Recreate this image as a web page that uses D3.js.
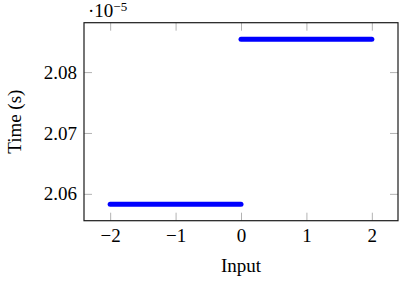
<!DOCTYPE html>
<html>
<head>
<meta charset="utf-8">
<script src="https://cdn.jsdelivr.net/npm/d3@7"></script>
<style>
  body { margin: 0; background: #fff; }
  svg { display: block; font-family: "Liberation Serif", "DejaVu Serif", serif; }
</style>
</head>
<body>
<svg id="chart" width="399" height="282"></svg>
<script>

// === Data === //
// time values are in units of 1e-5 s (the multiplier sits above the axis)

var segInputs = [[-2, 0], [0, 2]];
var segTimes = [2.0583, 2.0854];
var xTicks = [-2, -1, 0, 1, 2];
var yTicks = [2.06, 2.07, 2.08];


// === Layout === //

var width = 399, height = 282;
var margin = {top: 22.7, right: 1, bottom: 61.3, left: 84};

var svg = d3.select('#chart');

// pgfplots style: enlarge limits by 10% of the data range
var xMin = d3.min(segInputs, function(d) { return d[0]; });
var xMax = d3.max(segInputs, function(d) { return d[1]; });
var xPad = (xMax - xMin) * 0.1;
var yMin = d3.min(segTimes), yMax = d3.max(segTimes);
var yPad = (yMax - yMin) * 0.1;

var x = d3.scaleLinear()
	.domain([xMin - xPad, xMax + xPad])
	.range([margin.left, width - margin.right]);

var y = d3.scaleLinear()
	.domain([yMin - yPad, yMax + yPad])
	.range([height - margin.bottom, margin.top]);

var tickLen = 8;
var tickColor = '#b3b3b3';


// === Axes === //

function styleAxis(g) {
	g.attr('font-family', null).attr('font-size', null);
	g.select('.domain').remove();
	g.selectAll('.tick line').attr('stroke', tickColor).attr('stroke-width', 1);
	g.selectAll('.tick text').attr('fill', '#000').attr('font-size', 19);
}

svg.append('g')
	.attr('transform', 'translate(0,' + y.range()[0] + ')')
	.call(d3.axisBottom(x).tickValues(xTicks).tickSize(-tickLen).tickPadding(8).tickFormat(d3.format('d')))
	.call(styleAxis);

svg.append('g')
	.attr('transform', 'translate(0,' + y.range()[1] + ')')
	.call(d3.axisTop(x).tickValues(xTicks).tickSize(-tickLen).tickFormat(''))
	.call(styleAxis);

svg.append('g')
	.attr('transform', 'translate(' + x.range()[0] + ',0)')
	.call(d3.axisLeft(y).tickValues(yTicks).tickSize(-tickLen).tickPadding(7).tickFormat(d3.format('.2f')))
	.call(styleAxis);

svg.append('g')
	.attr('transform', 'translate(' + x.range()[1] + ',0)')
	.call(d3.axisRight(y).tickValues(yTicks).tickSize(-tickLen).tickFormat(''))
	.call(styleAxis);

// axis box
svg.append('rect')
	.attr('x', x.range()[0])
	.attr('y', y.range()[1])
	.attr('width', x.range()[1] - x.range()[0])
	.attr('height', y.range()[0] - y.range()[1])
	.attr('fill', 'none')
	.attr('stroke', '#1a1a1a')
	.attr('stroke-width', 1.2);


// === Series === //

var line = d3.line()
	.x(function(d) { return x(d[0]); })
	.y(function(d) { return y(d[1]); });

segInputs.forEach(function(seg, i) {

	svg.append('path')
		.datum(seg.map(function(v) { return [v, segTimes[i]]; }))
		.attr('d', line)
		.attr('fill', 'none')
		.attr('stroke', '#0000ff')
		.attr('stroke-width', 5)
		.attr('stroke-linecap', 'round');

}); // each segment


// === Labels === //

svg.append('text')
	.attr('x', (x.range()[0] + x.range()[1]) / 2)
	.attr('y', 272)
	.attr('text-anchor', 'middle')
	.attr('font-size', 19)
	.text('Input');

svg.append('text')
	.attr('transform', 'translate(20.5,' + ((y.range()[0] + y.range()[1]) / 2) + ') rotate(-90)')
	.attr('text-anchor', 'middle')
	.attr('font-size', 19)
	.text('Time (s)');

var mult = svg.append('text')
	.attr('x', 88)
	.attr('y', 17)
	.attr('font-size', 19);

mult.append('tspan').text('·10');
mult.append('tspan').attr('dy', -6.5).attr('font-size', 13).text('−5');

</script>
</body>
</html>
